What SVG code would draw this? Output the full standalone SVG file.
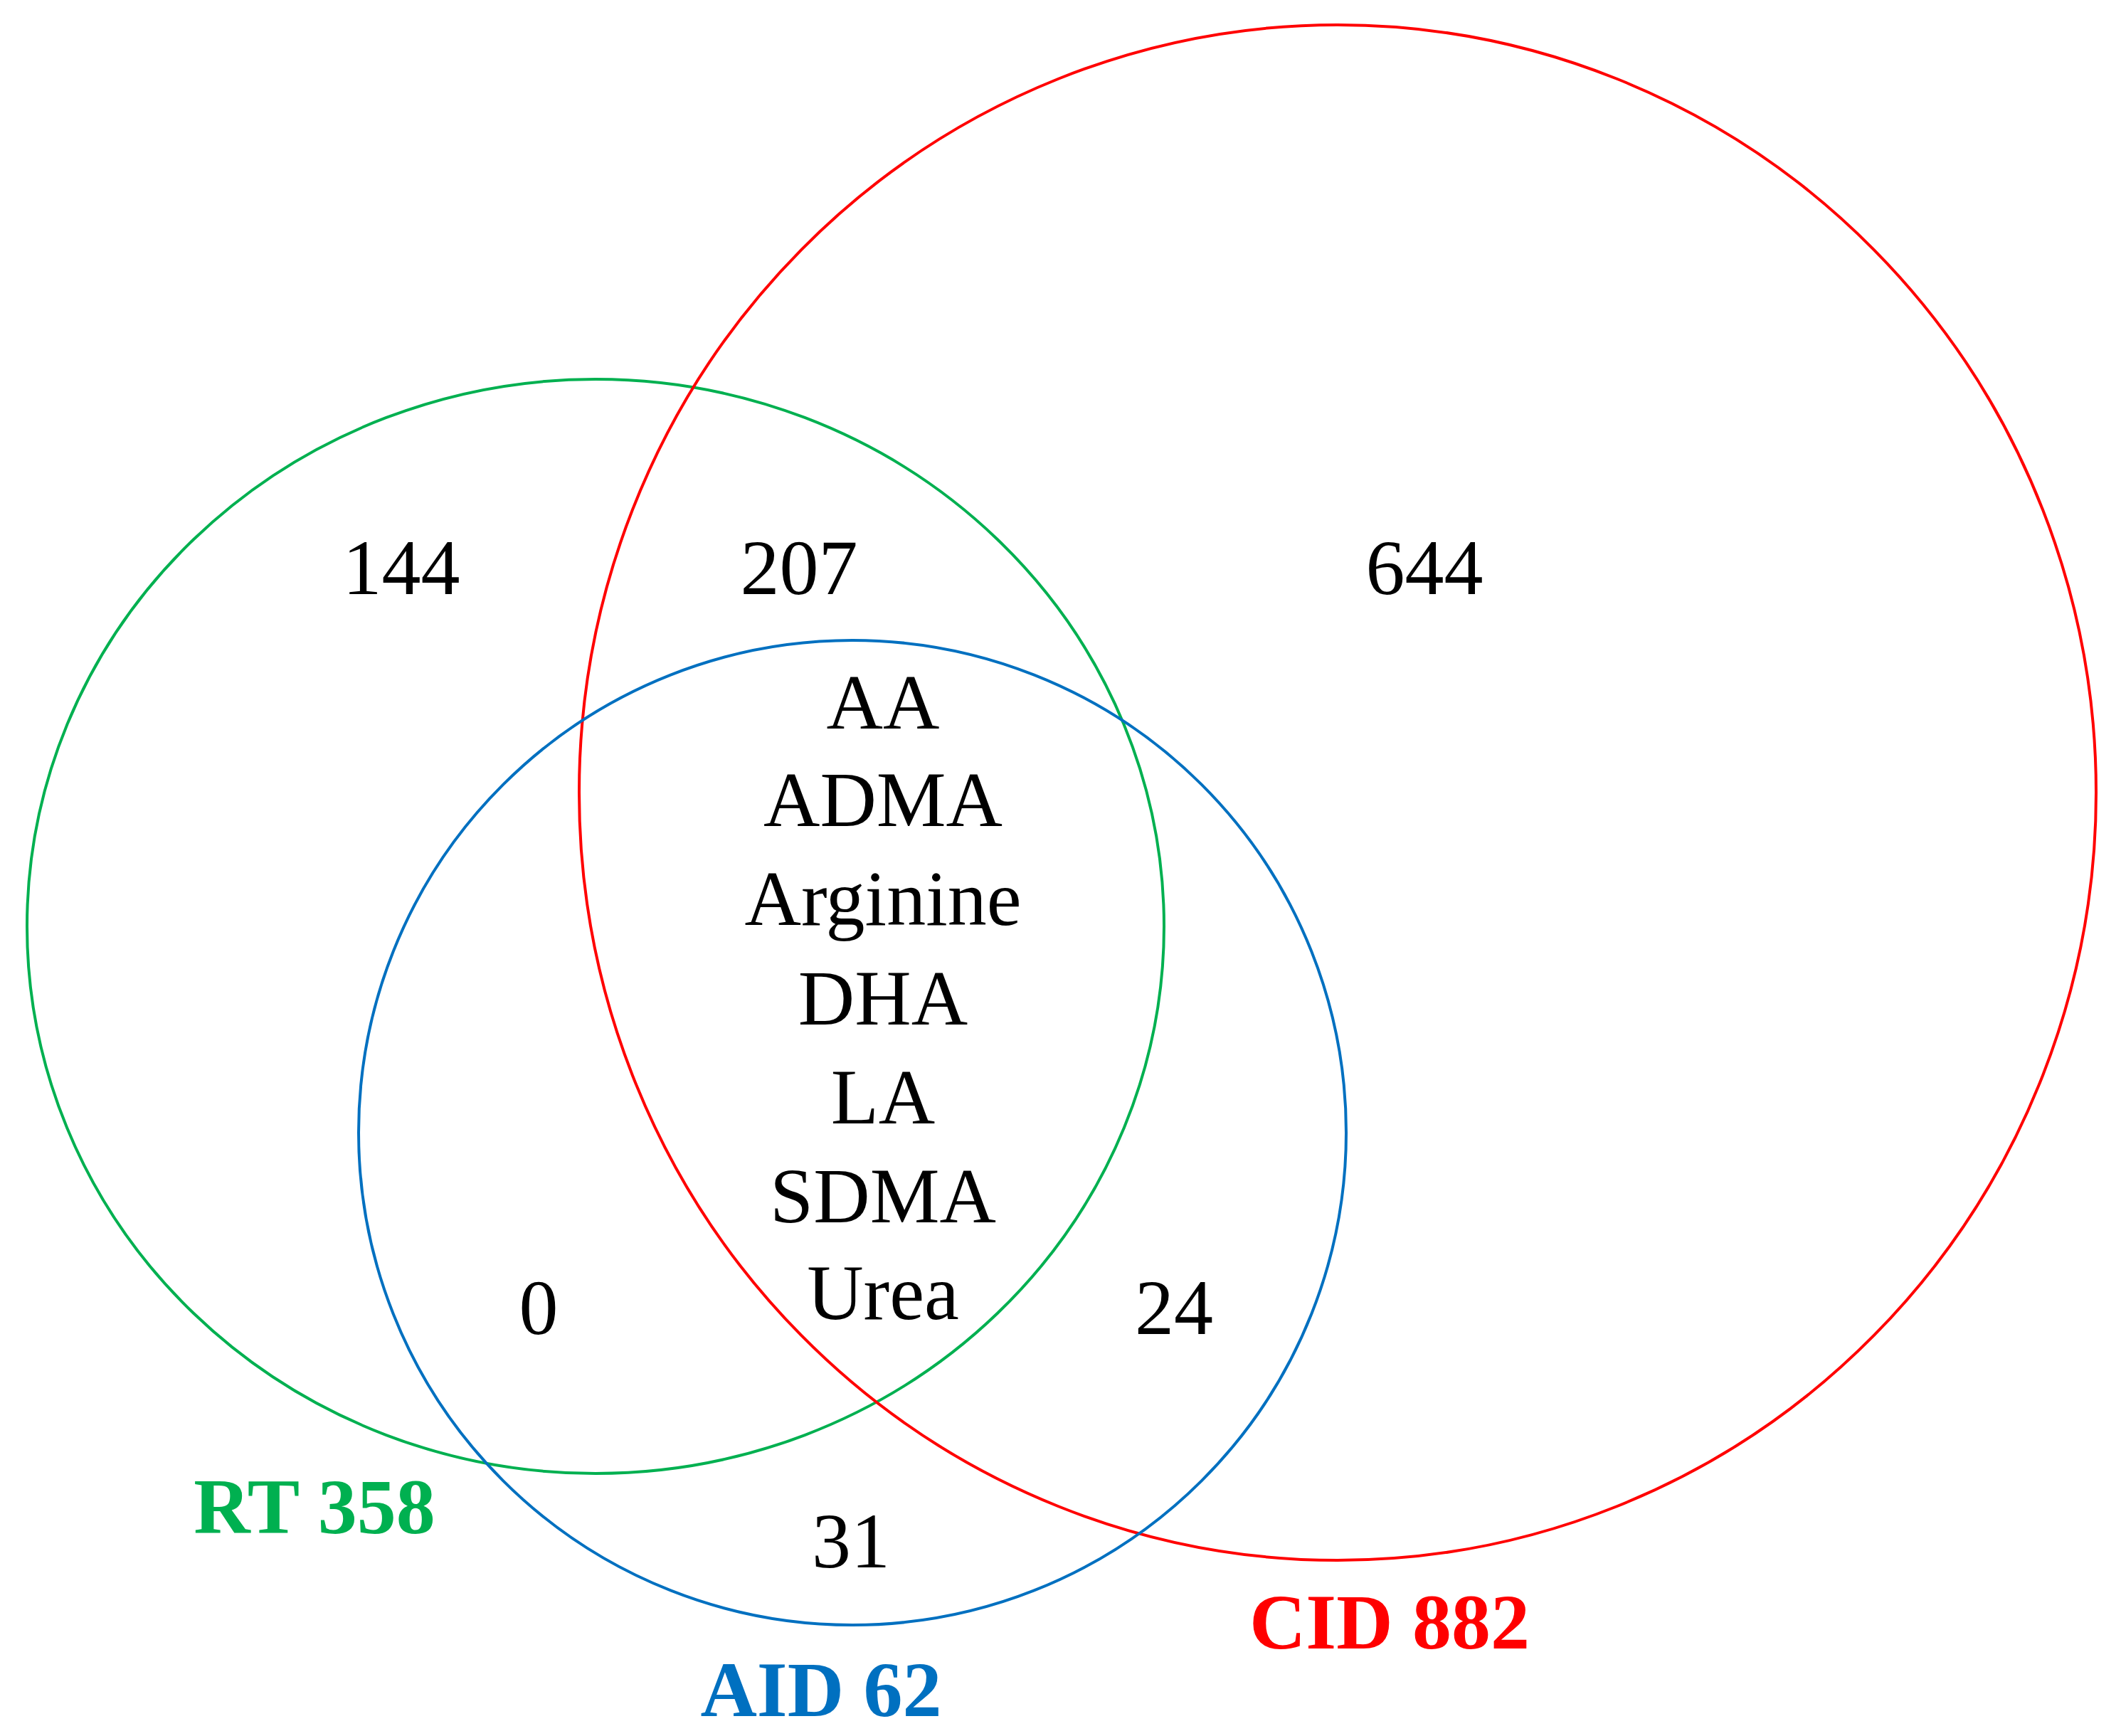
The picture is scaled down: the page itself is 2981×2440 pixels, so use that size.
<svg xmlns="http://www.w3.org/2000/svg" width="2981" height="2440" viewBox="0 0 2981 2440">
<style>
.c{fill:none;stroke-width:4}
text{font-family:"Liberation Serif","Times New Roman",serif;font-size:110px;text-anchor:middle;fill:#000}
.b{font-weight:bold}
</style>
<rect width="2981" height="2440" fill="#fff"/>
<g id="rt"><ellipse class="c" cx="837" cy="1302" rx="799" ry="769" stroke="#00b050"/><text class="b" x="442" y="2155" fill="#00b050" style="fill:#00b050">RT 358</text></g>
<g id="cid"><ellipse class="c" cx="1880" cy="1114" rx="1066" ry="1079" stroke="#ff0000"/><text class="b" x="1953" y="2317" style="fill:#ff0000">CID 882</text></g>
<g id="aid"><ellipse class="c" cx="1198" cy="1592" rx="694" ry="692" stroke="#0070c0"/><text class="b" x="1154" y="2412" style="fill:#0070c0">AID 62</text></g>
<g id="counts">
<text x="564" y="835">144</text>
<text x="1123" y="835">207</text>
<text x="2002" y="835">644</text>
<text x="757" y="1875">0</text>
<text x="1650" y="1875">24</text>
<text x="1196" y="2203">31</text>
</g>
<g id="center">
<text x="1241" y="1024">AA</text>
<text x="1241" y="1161">ADMA</text>
<text x="1241" y="1300">Arginine</text>
<text x="1241" y="1440">DHA</text>
<text x="1241" y="1579">LA</text>
<text x="1241" y="1718">SDMA</text>
<text x="1241" y="1854">Urea</text>
</g>
</svg>
